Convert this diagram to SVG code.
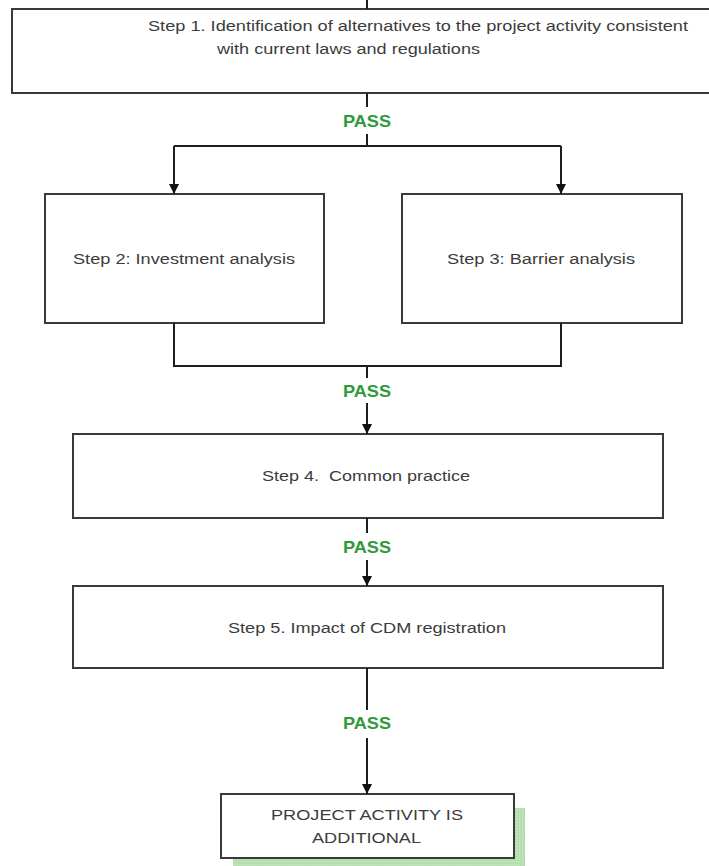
<svg xmlns="http://www.w3.org/2000/svg" width="709" height="866" viewBox="0 0 709 866">
  <style>
    .box { fill: #ffffff; stroke: #3a3a3a; stroke-width: 2; }
    .lbl { font-family: "Liberation Sans", Arial, sans-serif; font-size: 15.5px; fill: #3c3c3c; }
    .pass { font-family: "Liberation Sans", Arial, sans-serif; font-size: 17px; font-weight: bold; fill: #2e9a3a; }
    .conn { fill: none; stroke: #1e1e1e; stroke-width: 2; }
  </style>
  <defs>
    <marker id="arrow" viewBox="0 0 10 14" refX="10" refY="7" markerWidth="10" markerHeight="14" markerUnits="userSpaceOnUse" orient="auto">
      <path d="M0,2 L10,7 L0,12 Z" fill="#111111"/>
    </marker>
    <pattern id="dots" width="3" height="3" patternUnits="userSpaceOnUse">
      <rect width="3" height="3" fill="#b6deae"/>
      <rect width="1" height="1" fill="#d4ecd0"/>
    </pattern>
  </defs>
  <rect width="709" height="866" fill="#ffffff"/>

  <g id="step1">
    <rect class="box" x="12" y="9" width="705" height="84"/>
    <text class="lbl" x="148" y="31" textLength="540" lengthAdjust="spacingAndGlyphs">Step 1. Identification of alternatives to the project activity consistent</text>
    <text class="lbl" x="217" y="54" textLength="263" lengthAdjust="spacingAndGlyphs">with current laws and regulations</text>
  </g>

  <g id="step2">
    <rect class="box" x="45" y="194" width="279" height="129"/>
    <text class="lbl" x="73" y="264" textLength="222" lengthAdjust="spacingAndGlyphs">Step 2: Investment analysis</text>
  </g>

  <g id="step3">
    <rect class="box" x="402" y="194" width="280" height="129"/>
    <text class="lbl" x="447" y="264" textLength="188" lengthAdjust="spacingAndGlyphs">Step 3: Barrier analysis</text>
  </g>

  <g id="step4">
    <rect class="box" x="73" y="434" width="590" height="84"/>
    <text class="lbl" x="262" y="481" textLength="208" lengthAdjust="spacingAndGlyphs" xml:space="preserve">Step 4.  Common practice</text>
  </g>

  <g id="step5">
    <rect class="box" x="73" y="586" width="590" height="82"/>
    <text class="lbl" x="228" y="633" textLength="278" lengthAdjust="spacingAndGlyphs">Step 5. Impact of CDM registration</text>
  </g>

  <g id="result">
    <rect x="233" y="808" width="292" height="60" fill="url(#dots)"/>
    <rect class="box" x="221" y="794" width="293" height="64"/>
    <text class="lbl" x="271" y="820" textLength="192" lengthAdjust="spacingAndGlyphs">PROJECT ACTIVITY IS</text>
    <text class="lbl" x="312" y="843" textLength="109" lengthAdjust="spacingAndGlyphs">ADDITIONAL</text>
  </g>

  <g id="connectors">
    <line class="conn" x1="367" y1="0" x2="367" y2="9" stroke-width="1"/>
    <line class="conn" x1="367" y1="93" x2="367" y2="107"/>
    <line class="conn" x1="367" y1="134" x2="367" y2="146"/>
    <line class="conn" x1="174" y1="146" x2="561" y2="146"/>
    <line class="conn" x1="174" y1="146" x2="174" y2="194" marker-end="url(#arrow)"/>
    <line class="conn" x1="561" y1="146" x2="561" y2="194" marker-end="url(#arrow)"/>

    <polyline class="conn" points="174,323 174,366 561,366 561,323"/>
    <line class="conn" x1="367" y1="366" x2="367" y2="378"/>
    <line class="conn" x1="367" y1="403" x2="367" y2="434" marker-end="url(#arrow)"/>

    <line class="conn" x1="367" y1="518" x2="367" y2="533"/>
    <line class="conn" x1="367" y1="560" x2="367" y2="586" marker-end="url(#arrow)"/>

    <line class="conn" x1="367" y1="668" x2="367" y2="710"/>
    <line class="conn" x1="367" y1="738" x2="367" y2="794" marker-end="url(#arrow)"/>

    <text class="pass" x="343" y="127" textLength="48" lengthAdjust="spacingAndGlyphs">PASS</text>
    <text class="pass" x="343" y="397" textLength="48" lengthAdjust="spacingAndGlyphs">PASS</text>
    <text class="pass" x="343" y="553" textLength="48" lengthAdjust="spacingAndGlyphs">PASS</text>
    <text class="pass" x="343" y="729" textLength="48" lengthAdjust="spacingAndGlyphs">PASS</text>
  </g>
</svg>
